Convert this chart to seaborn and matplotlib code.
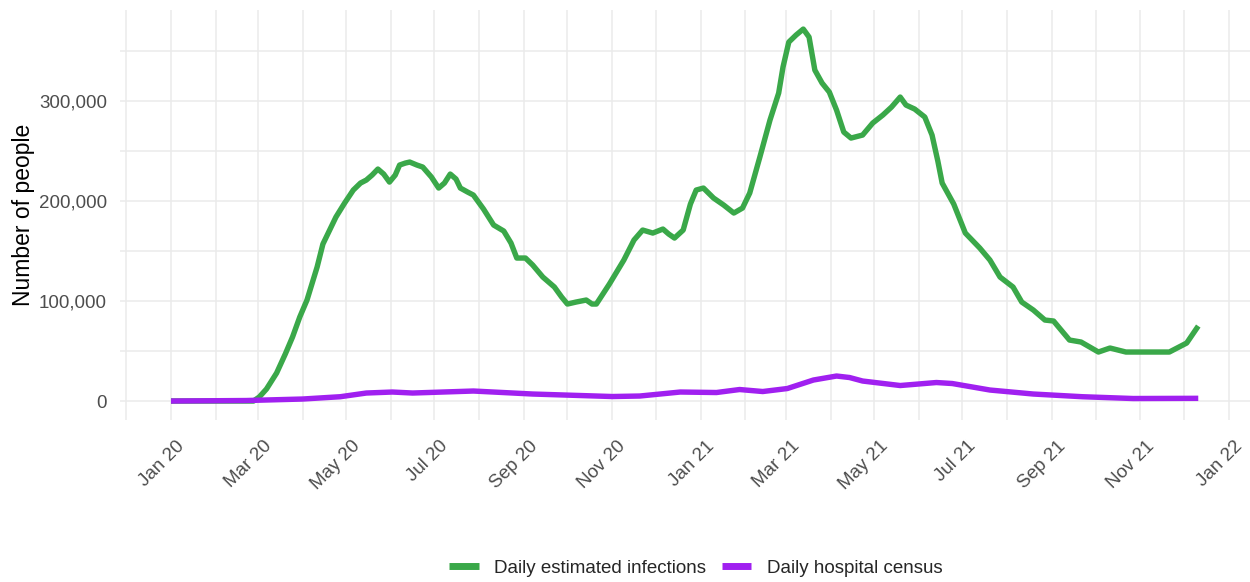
import numpy as np
import pandas as pd
import matplotlib.pyplot as plt
import matplotlib.dates as mdates
import matplotlib.ticker as mticker
import matplotlib.transforms as mtransforms
from matplotlib.lines import Line2D
import seaborn as sns

# -- data --
inf_dates = ["2020-01-01", "2020-02-27", "2020-03-02", "2020-03-07", "2020-03-14", "2020-03-20",
             "2020-03-25", "2020-03-30", "2020-04-04", "2020-04-11", "2020-04-15", "2020-04-24",
             "2020-04-30", "2020-05-06", "2020-05-11", "2020-05-15", "2020-05-19", "2020-05-23",
             "2020-05-27", "2020-05-31", "2020-06-04", "2020-06-07", "2020-06-11", "2020-06-14",
             "2020-06-19", "2020-06-23", "2020-06-29", "2020-07-04", "2020-07-08", "2020-07-12",
             "2020-07-16", "2020-07-19", "2020-07-24", "2020-07-28", "2020-08-04", "2020-08-11",
             "2020-08-18", "2020-08-23", "2020-08-27", "2020-09-02", "2020-09-07", "2020-09-14",
             "2020-09-22", "2020-09-27", "2020-10-01", "2020-10-07", "2020-10-14", "2020-10-18",
             "2020-10-21", "2020-10-30", "2020-11-09", "2020-11-16", "2020-11-22", "2020-11-29",
             "2020-12-06", "2020-12-10", "2020-12-14", "2020-12-20", "2020-12-25", "2020-12-29",
             "2021-01-03", "2021-01-10", "2021-01-17", "2021-01-24", "2021-01-30", "2021-02-04",
             "2021-02-11", "2021-02-18", "2021-02-24", "2021-02-27", "2021-03-03", "2021-03-08",
             "2021-03-13", "2021-03-17", "2021-03-21", "2021-03-26", "2021-03-31", "2021-04-05",
             "2021-04-10", "2021-04-15", "2021-04-23", "2021-04-30", "2021-05-07", "2021-05-13",
             "2021-05-19", "2021-05-23", "2021-05-29", "2021-06-05", "2021-06-10", "2021-06-14",
             "2021-06-17", "2021-06-25", "2021-07-03", "2021-07-13", "2021-07-20", "2021-07-27",
             "2021-08-05", "2021-08-11", "2021-08-19", "2021-08-27", "2021-09-02", "2021-09-13",
             "2021-09-21", "2021-10-03", "2021-10-11", "2021-10-22", "2021-11-08", "2021-11-21",
             "2021-12-03", "2021-12-11"]
inf_values = [0, 0, 4000, 12000, 28000, 47000,
              64000, 84000, 101000, 134000, 157000, 184000,
              198000, 211000, 218000, 221000, 226000, 232000,
              227000, 219000, 226000, 236000, 238000, 239000,
              236000, 234000, 224000, 213000, 218000, 227000,
              222000, 213000, 209000, 206000, 192000, 176000,
              170000, 158000, 143000, 143000, 136000, 124000,
              114000, 104000, 97000, 99000, 101000, 97000,
              97000, 117000, 141000, 161000, 171000, 168000,
              172000, 167000, 163000, 171000, 197000, 211000,
              213000, 203000, 196000, 188000, 193000, 208000,
              244000, 281000, 308000, 334000, 359000, 366000,
              372000, 364000, 331000, 318000, 309000, 291000,
              269000, 263000, 266000, 278000, 286000, 294000,
              304000, 296000, 292000, 284000, 266000, 240000,
              218000, 197000, 168000, 153000, 141000, 124000,
              114000, 99000, 91000, 81000, 80000, 61000,
              59000, 49000, 53000, 49000, 49000, 49000,
              58000, 75000]

hosp_dates = ["2020-01-01", "2020-02-22", "2020-04-01", "2020-04-27", "2020-05-15", "2020-06-02",
              "2020-06-16", "2020-07-28", "2020-09-07", "2020-11-01", "2020-11-20", "2020-12-18",
              "2021-01-12", "2021-01-28", "2021-02-13", "2021-03-02", "2021-03-20", "2021-04-05",
              "2021-04-14", "2021-04-23", "2021-05-19", "2021-06-13", "2021-06-24", "2021-07-20",
              "2021-08-19", "2021-09-22", "2021-10-27", "2021-12-11"]
hosp_values = [0, 500, 2000, 4300, 8000, 9000,
               8000, 10000, 7000, 4500, 5000, 9000,
               8500, 11500, 9500, 12500, 21000, 25000,
               23500, 20000, 15500, 18500, 17500, 11000,
               7000, 4300, 2500, 2700]

series_names = ["Daily estimated infections", "Daily hospital census"]
colors = ["#3AA849", "#A020F0"]

df = pd.concat([
    pd.DataFrame({"date": pd.to_datetime(inf_dates), "value": inf_values, "series": series_names[0]}),
    pd.DataFrame({"date": pd.to_datetime(hosp_dates), "value": hosp_values, "series": series_names[1]}),
])

sns.set_theme(style="whitegrid")
plt.rcParams['font.family'] = ['Liberation Sans', 'DejaVu Sans']

fig = plt.figure(figsize=(12.5, 5.82), dpi=100)
ax = fig.add_axes([0.0957, 0.279, 0.904, 0.703])

sns.lineplot(data=df, x="date", y="value", hue="series", hue_order=series_names,
             palette=colors, linewidth=3.9, ax=ax, legend=False)
for ln in ax.get_lines():
    ln.set_solid_joinstyle("round")
    ln.set_solid_capstyle("butt")

# axes limits, ggplot-style 5% expansion
start, end = pd.Timestamp("2020-01-01"), pd.Timestamp("2021-12-11")
pad = (end - start) * 0.05
ax.set_xlim(start - pad, end + pad)
ax.set_ylim(-18600, 390600)

ax.xaxis.set_major_locator(mdates.MonthLocator(bymonth=[1, 3, 5, 7, 9, 11]))
ax.xaxis.set_minor_locator(mdates.MonthLocator())
ax.xaxis.set_major_formatter(mdates.DateFormatter("%b %y"))
ax.yaxis.set_major_locator(mticker.MultipleLocator(100000))
ax.yaxis.set_minor_locator(mticker.MultipleLocator(50000))
ax.yaxis.set_major_formatter(mticker.StrMethodFormatter("{x:,.0f}"))

ax.grid(which="major", color="#EBEBEB", linewidth=1.1)
ax.grid(which="minor", color="#EBEBEB", linewidth=1.1)
for s in ax.spines.values():
    s.set_visible(False)
ax.tick_params(which="both", length=0)
ax.tick_params(axis="y", labelsize=13.5, labelcolor="#4D4D4D", pad=9)
ax.tick_params(axis="x", labelsize=13.5, labelcolor="#4D4D4D", pad=13)

offset = mtransforms.ScaledTranslation(5 / 100, 0, fig.dpi_scale_trans)
for lab in ax.get_xticklabels():
    lab.set_rotation(45)
    lab.set_ha("right")
    lab.set_va("top")
    lab.set_rotation_mode("anchor")
    lab.set_transform(lab.get_transform() + offset)

ax.set_xlabel("")
ax.set_ylabel("Number of people", fontsize=16.5, color="black", labelpad=3)

handles = [Line2D([0], [0], color=c, linewidth=5, solid_capstyle="butt") for c in colors]
fig.legend(handles, series_names, loc="center", bbox_to_anchor=(0.557, 0.024),
           ncol=2, frameon=False, fontsize=13.5, handlelength=1.55,
           handletextpad=0.85, columnspacing=0.85)

fig.savefig("out.png", dpi=100)
